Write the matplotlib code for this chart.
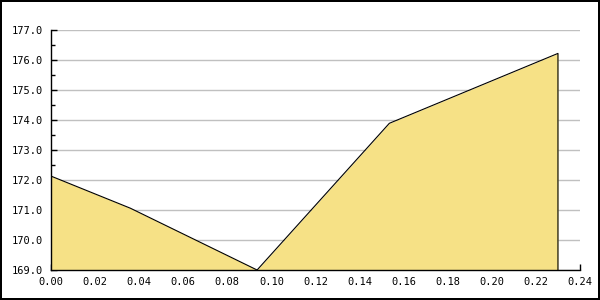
import matplotlib
matplotlib.use('Agg')
import matplotlib.pyplot as plt
from matplotlib.ticker import MultipleLocator, FormatStrFormatter

# values
xs = [0.0, 0.036, 0.0935, 0.1535, 0.23]
ys = [172.13, 171.06, 169.0, 173.89, 176.22]

fig = plt.figure(figsize=(6, 3), dpi=100)
fig.patch.set_edgecolor('black')
fig.patch.set_linewidth(1.5)
ax = fig.add_axes([51 / 600, 30 / 300, 529 / 600, 240 / 300])

ax.fill_between(xs, ys, 169, color='#f6e186', lw=0, zorder=2)
ax.plot(xs + [xs[-1]], ys + [169], color='black', lw=0.8, zorder=3)

ax.set_xlim(0, 0.24)
ax.set_ylim(169, 177)
ax.xaxis.set_major_locator(MultipleLocator(0.02))
ax.yaxis.set_major_locator(MultipleLocator(1))
ax.yaxis.set_minor_locator(MultipleLocator(0.5))
ax.xaxis.set_major_formatter(FormatStrFormatter('%.2f'))
ax.yaxis.set_major_formatter(FormatStrFormatter('%.1f'))
ax.grid(axis='y', color='#c0c0c0', lw=1, zorder=1)
ax.set_axisbelow(True)

for s in ['top', 'right']:
    ax.spines[s].set_visible(False)
for s in ['left', 'bottom']:
    ax.spines[s].set_linewidth(1)
    ax.spines[s].set_zorder(4)

ax.tick_params(which='major', direction='in', length=4, width=1, labelsize=7.5)
ax.tick_params(axis='y', which='major', pad=6)
ax.tick_params(axis='x', which='major', pad=5)
ax.tick_params(which='minor', direction='in', length=3, width=1)
for lab in ax.get_xticklabels() + ax.get_yticklabels():
    lab.set_family('DejaVu Sans Mono')

fig.savefig('out.png', dpi=100, edgecolor=fig.get_edgecolor())
